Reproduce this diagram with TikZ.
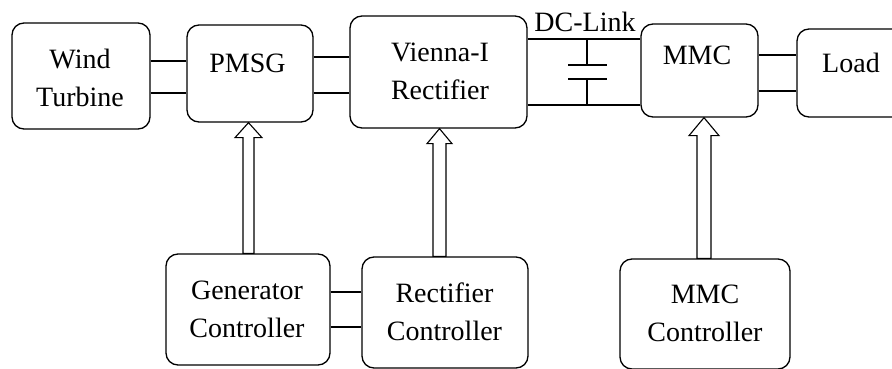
\documentclass[tikz,border=0pt]{standalone}
\usepackage{fontspec}
\newfontfamily\diagfont{Liberation Serif}
\usetikzlibrary{calc}
\begin{document}
\begin{tikzpicture}[x=1pt, y=1pt, line width=1.3pt,
  box/.style={draw, rounded corners=12pt, inner sep=0pt},
  txt/.style={font=\diagfont\fontsize{28}{38}\selectfont, align=center, inner sep=0pt},
  hollow/.style={draw, fill=white, line width=1.1pt, line join=miter}]
  \useasboundingbox (0,0) rectangle (892,-369);
  \clip (0,0) rectangle (892,-369);

  % power path blocks
  \node[box, minimum width=138, minimum height=106] (wt)   at (81,-76)    {};
  \node[box, minimum width=126, minimum height=97]  (pmsg) at (250,-73.5) {};
  \node[box, minimum width=177, minimum height=112] (vr)   at (438.5,-72) {};
  \node[box, minimum width=117, minimum height=93]  (mmc)  at (699.5,-70.5) {};
  \node[box, minimum width=108, minimum height=88]  (load) at (851,-73)   {};

  % controller blocks
  \node[box, minimum width=164, minimum height=111] (genc) at (248,-309.5) {};
  \node[box, minimum width=166, minimum height=111] (recc) at (445,-312.5) {};
  \node[box, minimum width=170, minimum height=110] (mmcc) at (705,-314)   {};

  % block labels
  \node[txt] (wt-t)   at (80,-77.5)   {Wind\\Turbine};
  \node[txt] (pmsg-t) at (247.5,-63)  {PMSG};
  \node[txt] (vr-t)   at (440,-71.5)  {Vienna-I\\Rectifier};
  \node[txt] (mmc-t)  at (697,-55)    {MMC};
  \node[txt] (load-t) at (851,-63)    {Load};
  \node[txt] (genc-t) at (247,-309)   {Generator\\Controller};
  \node[txt] (recc-t) at (444.5,-312) {Rectifier\\Controller};
  \node[txt] (mmcc-t) at (705,-313.5) {MMC\\Controller};
  \node[txt] (dcl)    at (585,-22)    {DC-Link};

  % double line connections
  \draw (wt.east |- 0,-61) -- (pmsg.west |- 0,-61);
  \draw (wt.east |- 0,-93) -- (pmsg.west |- 0,-93);
  \draw (pmsg.east |- 0,-57) -- (vr.west |- 0,-57);
  \draw (pmsg.east |- 0,-93) -- (vr.west |- 0,-93);
  \draw (mmc.east |- 0,-55) -- (load.west |- 0,-55);
  \draw (mmc.east |- 0,-91) -- (load.west |- 0,-91);
  \draw (genc.east |- 0,-292) -- (recc.west |- 0,-292);
  \draw (genc.east |- 0,-327) -- (recc.west |- 0,-327);

  % DC link with capacitor
  \draw (vr.east |- 0,-39) -- (mmc.west |- 0,-39);
  \draw (vr.east |- 0,-105) -- (mmc.west |- 0,-105);
  \draw (587,-39) -- (587,-65);
  \draw (568,-65) -- (607,-65);
  \draw (568,-79) -- (607,-79);
  \draw (587,-79) -- (587,-105);

  % hollow control arrows
  \draw[hollow] let \p1=(pmsg.south), \p2=(genc.north) in
    (243,\y2) -- (243,\y1-15pt) -- (235,\y1-15pt) -- (248.5,\y1)
    -- (262,\y1-15pt) -- (254,\y1-15pt) -- (254,\y2) -- cycle;
  \draw[hollow] let \p1=(vr.south), \p2=(recc.north) in
    (433,\y2) -- (433,\y1-15pt) -- (427,\y1-15pt) -- (439.5,\y1)
    -- (452,\y1-15pt) -- (446,\y1-15pt) -- (446,\y2) -- cycle;
  \draw[hollow] let \p1=(mmc.south), \p2=(mmcc.north) in
    (697,\y2) -- (697,\y1-18pt) -- (689,\y1-18pt) -- (704,\y1)
    -- (719,\y1-18pt) -- (711,\y1-18pt) -- (711,\y2) -- cycle;
\end{tikzpicture}
\end{document}
